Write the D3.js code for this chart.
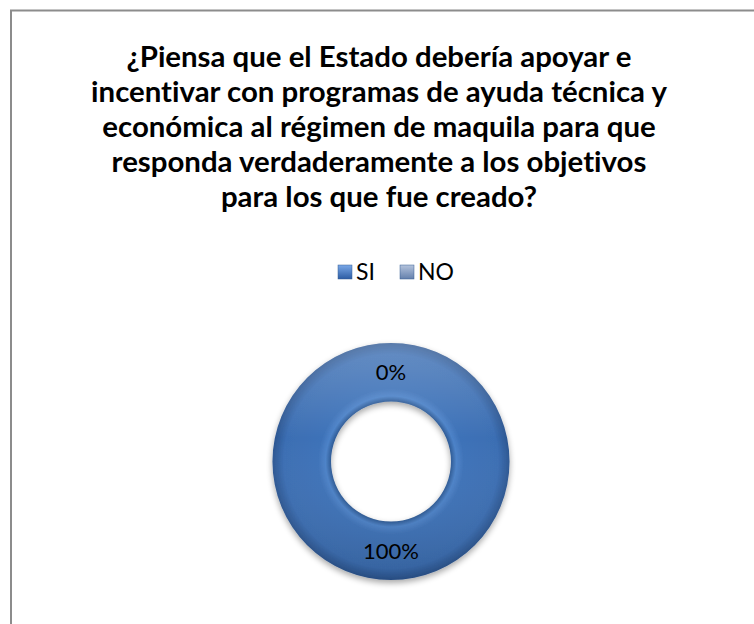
<!DOCTYPE html>
<html>
<head>
<meta charset="utf-8">
<script src="https://cdn.jsdelivr.net/npm/d3@7"></script>
<style>
  body { margin: 0; background: #fff; }
  text { font-family: Lato, "Open Sans", sans-serif; font-variant-ligatures: none; font-feature-settings: "liga" 0, "clig" 0; }
</style>
</head>
<body>
<div id="chart"></div>
<script>
// data
var categories = ['SI', 'NO'];
var values = [100, 0];
var labels = ['100%', '0%'];
var titleLines = [
  '¿Piensa que el Estado debería apoyar e',
  'incentivar con programas de ayuda técnica y',
  'económica al régimen de maquila para que',
  'responda verdaderamente a los objetivos',
  'para los que fue creado?'
];

const width = 754;
const height = 624;

const svg = d3.select('#chart')
  .append('svg')
  .attr('width', width)
  .attr('height', height);

const defs = svg.append('defs');

// ring shading
const ringGrad = defs.append('radialGradient')
  .attr('id', 'ringGrad')
  .attr('gradientUnits', 'userSpaceOnUse')
  .attr('cx', 0).attr('cy', 0).attr('r', 119);
ringGrad.append('stop').attr('offset', '0.50').attr('stop-color', '#2a5690');
ringGrad.append('stop').attr('offset', '0.55').attr('stop-color', '#4c82c8');
ringGrad.append('stop').attr('offset', '0.61').attr('stop-color', '#3e72b8');
ringGrad.append('stop').attr('offset', '0.90').attr('stop-color', '#3b6eb3');
ringGrad.append('stop').attr('offset', '1').attr('stop-color', '#2b5590');

const topLight = defs.append('linearGradient')
  .attr('id', 'topLight')
  .attr('x1', 0).attr('y1', 0).attr('x2', 0).attr('y2', 1);
topLight.append('stop').attr('offset', '0').attr('stop-color', '#fff').attr('stop-opacity', 0.22);
topLight.append('stop').attr('offset', '0.4').attr('stop-color', '#fff').attr('stop-opacity', 0);
topLight.append('stop').attr('offset', '1').attr('stop-color', '#000').attr('stop-opacity', 0.12);

const shadow = defs.append('filter').attr('id', 'shadow')
  .attr('x', '-20%').attr('y', '-20%').attr('width', '140%').attr('height', '140%');
shadow.append('feGaussianBlur').attr('in', 'SourceAlpha').attr('stdDeviation', 3);
shadow.append('feOffset').attr('dx', 0).attr('dy', 3).attr('result', 'b');
shadow.append('feComponentTransfer').append('feFuncA').attr('type', 'linear').attr('slope', 0.35);
const merge = shadow.append('feMerge');
merge.append('feMergeNode');
merge.append('feMergeNode').attr('in', 'SourceGraphic');

const legColors = { SI: ['#7aa8e8', '#2c5ca3'], NO: ['#b4c3dc', '#6480ac'] };
categories.forEach(c => {
  const g = defs.append('linearGradient').attr('id', 'leg' + c)
    .attr('x1', 0).attr('y1', 0).attr('x2', 0).attr('y2', 1);
  g.append('stop').attr('offset', '0').attr('stop-color', legColors[c][0]);
  g.append('stop').attr('offset', '1').attr('stop-color', legColors[c][1]);
});

// frame (runs off the bottom/right edge)
svg.append('rect')
  .attr('x', 11).attr('y', 10.5)
  .attr('width', 800).attr('height', 700)
  .attr('fill', 'none')
  .attr('stroke', '#8c8c8c')
  .attr('stroke-width', 2);

// title, sized so the widest line spans like the original
const title = svg.append('text')
  .attr('text-anchor', 'middle')
  .style('font-size', '24px')
  .style('font-weight', 'bold')
  .attr('fill', '#000');
title.selectAll('tspan')
  .data(titleLines)
  .enter()
  .append('tspan')
  .attr('x', 379)
  .attr('y', (d, i) => 67 + i * 35)
  .text(d => d);
const w2 = title.selectAll('tspan').nodes()[1].getComputedTextLength();
title.style('font-size', (24 * 576 / w2) + 'px');

// legend
const legX = d3.scalePoint().domain(categories).range([338, 400]);
const leg = svg.selectAll('.leg')
  .data(categories)
  .enter()
  .append('g')
  .classed('leg', true)
  .attr('transform', d => `translate(${legX(d)},265)`);
leg.append('rect')
  .attr('width', 14).attr('height', 14)
  .attr('fill', d => 'url(#leg' + d + ')')
  .attr('stroke', '#3a5f94').attr('stroke-width', 0.5);
leg.append('text')
  .attr('x', 18).attr('y', 15)
  .style('font-size', '23px')
  .text(d => d);

// donut
const cx = 391, cy = 461.5;
const outerR = 118.5, innerR = 60;
const pie = d3.pie().sort(null).value(d => d.v);
const arc = d3.arc().innerRadius(innerR).outerRadius(outerR);
const pieData = pie(categories.map((c, i) => ({ c: c, v: values[i], l: labels[i] })));

const donut = svg.append('g').attr('transform', `translate(${cx},${cy})`);
donut.selectAll('.slice')
  .data(pieData)
  .enter()
  .append('path')
  .classed('slice', true)
  .attr('d', arc)
  .attr('fill', 'url(#ringGrad)')
  .attr('filter', 'url(#shadow)');
donut.selectAll('.light')
  .data(pieData.filter(d => d.value > 0))
  .enter()
  .append('path')
  .attr('d', arc)
  .attr('fill', 'url(#topLight)');

donut.selectAll('.pct')
  .data(pieData)
  .enter()
  .append('text')
  .classed('pct', true)
  .attr('transform', d => {
    const p = arc.centroid(d);
    return `translate(${p[0]},${p[1]})`;
  })
  .attr('text-anchor', 'middle')
  .attr('dy', '0.36em')
  .style('font-size', '22px')
  .attr('fill', '#000')
  .text(d => d.data.l);
</script>
</body>
</html>
